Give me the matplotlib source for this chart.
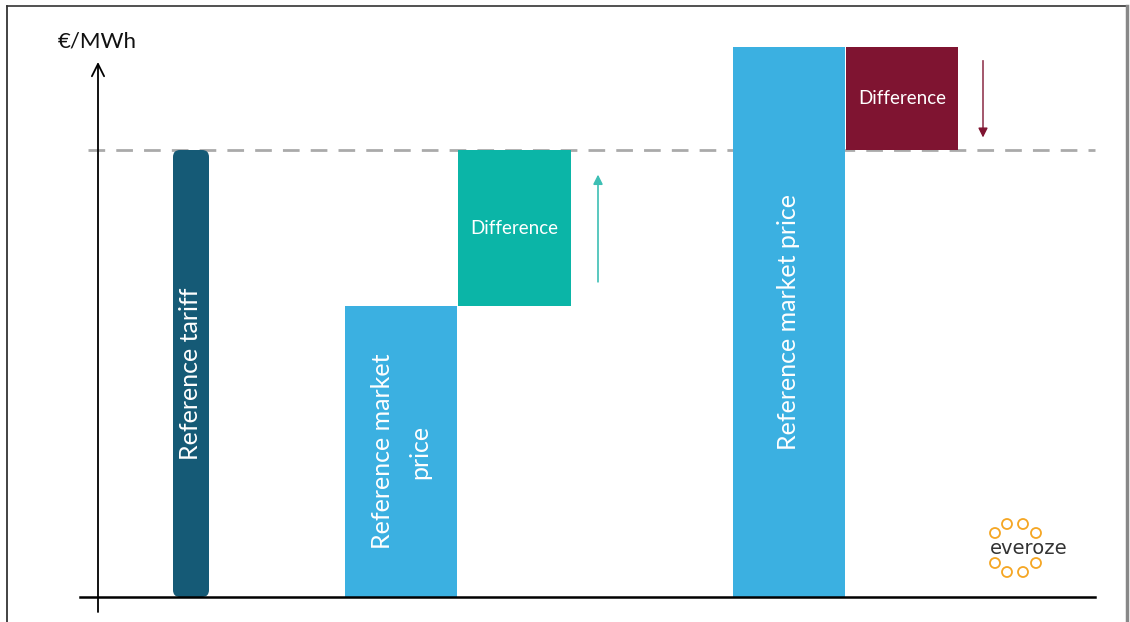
import matplotlib
matplotlib.use('Agg')
import matplotlib.pyplot as plt
from matplotlib.patches import FancyBboxPatch, Ellipse
from matplotlib.lines import Line2D

plt.rcParams['font.family'] = ['Lato', 'DejaVu Sans']

# prix en €/MWh (échelle indicative)
tariff = 100
market_low = 65
market_high = 123
diff_low = tariff - market_low      # complément versé
diff_high = market_high - tariff    # reversement

labels = ['Reference tariff', 'Reference market\nprice', 'Difference',
          'Reference market price', 'Difference']
unit_label = '€/MWh'

c_tariff = '#155a76'
c_market = '#3bb0e1'
c_up = '#0bb5a7'
c_down = '#7f1431'

PX = 4.47  # pixels par unité de y

fig = plt.figure(figsize=(11.3, 6.22), dpi=100)
ax = fig.add_axes([0, 0, 1, 1])
ax.set_xlim(0, 1130)
ax.set_ylim(-25 / PX, 597 / PX)
ax.axis('off')

# barre tarif de référence, coins arrondis
bar = FancyBboxPatch((173, 0), 36, tariff, boxstyle='round,pad=0,rounding_size=7',
                     mutation_aspect=1 / PX, fc=c_tariff, ec='none', zorder=3)
ax.add_patch(bar)
ax.text(191, tariff / 2, labels[0], rotation=90, color='white', fontsize=18,
        ha='center', va='center', zorder=4)

# cas 1 : prix de marché bas -> complément
ax.bar(401, market_low, width=112, color=c_market, zorder=3)
ax.bar(514.5, diff_low, bottom=market_low, width=113, color=c_up, zorder=3)
ax.text(401, market_low / 2, labels[1], rotation=90, color='white', fontsize=18,
        ha='center', va='center', linespacing=1.75, zorder=4)
ax.text(514.5, market_low + diff_low / 2, labels[2], color='white', fontsize=13.5,
        ha='center', va='center', zorder=4)
ax.annotate('', xy=(598, tariff - 5.5), xytext=(598, market_low + 5.5),
            arrowprops=dict(arrowstyle='-|>', color='#3dbfb4', lw=1.2,
                            mutation_scale=14, shrinkA=0, shrinkB=0))

# cas 2 : prix de marché haut -> reversement
ax.bar(789, market_high, width=112, color=c_market, zorder=3)
ax.bar(902, diff_high, bottom=tariff, width=112, color=c_down, zorder=3)
ax.text(789, market_high / 2, labels[3], rotation=90, color='white', fontsize=18,
        ha='center', va='center', zorder=4)
ax.text(902, tariff + diff_high / 2, labels[4], color='white', fontsize=13.5,
        ha='center', va='center', zorder=4)
ax.annotate('', xy=(983, tariff + 2.8), xytext=(983, market_high - 3),
            arrowprops=dict(arrowstyle='-|>', color=c_down, lw=1.0,
                            mutation_scale=14, shrinkA=0, shrinkB=0))

# ligne pointillée au niveau du tarif
ax.plot([88, 1095], [tariff, tariff], ls=(0, (6, 4)), color='#aaaaaa', lw=2, zorder=2)

# axes dessinés à la main
ax.plot([80, 1095], [0, 0], color='black', lw=1.8, zorder=5)
ax.annotate('', xy=(98, 597 / PX - 62 / PX), xytext=(98, -15 / PX),
            arrowprops=dict(arrowstyle='->', color='black', lw=1.3,
                            mutation_scale=22, shrinkA=0, shrinkB=0))
ax.text(97, 556 / PX, unit_label, fontsize=16, ha='center', va='center', color='#111111')

# logo
for cx, cy in [(995, 533), (1007, 524), (1023, 524), (1036, 533),
               (995, 563), (1007, 572), (1023, 572), (1036, 563)]:
    ax.add_patch(Ellipse((cx, (597 - cy) / PX), 10, 10 / PX, fc='none',
                         ec='#f5a623', lw=1.3))
ax.text(1029, (597 - 548) / PX, 'everoze', fontsize=14, family='DejaVu Sans',
        ha='center', va='center', color='#333333')

# cadre
fig.add_artist(Line2D([7 / 1130, 7 / 1130], [0, 1 - 6 / 622], color='#222222', lw=1.2))
fig.add_artist(Line2D([7 / 1130, 1127 / 1130], [1 - 6 / 622, 1 - 6 / 622], color='#333333', lw=1.2))
fig.add_artist(Line2D([1127 / 1130, 1127 / 1130], [0, 1 - 6 / 622], color='#888888', lw=2.5))

fig.savefig('out.png', dpi=100)
